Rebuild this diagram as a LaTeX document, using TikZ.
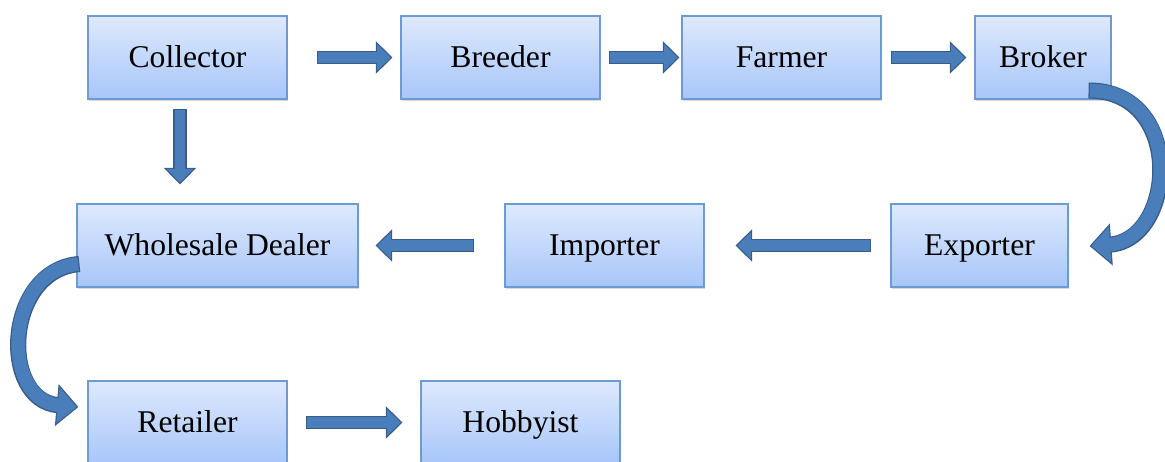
\documentclass[tikz,border=0pt]{standalone}
\usepackage{fontspec}
\setmainfont{Liberation Serif}
\usetikzlibrary{arrows.meta,shadows,calc}
\definecolor{boxtop}{HTML}{DEE9FD}
\definecolor{boxbottom}{HTML}{A7C6F9}
\definecolor{boxline}{HTML}{6D9AD3}
\definecolor{arrowfill}{HTML}{4A7EBB}
\definecolor{arrowline}{HTML}{385D8A}
\tikzset{
  stage/.style={draw=boxline, line width=0.8pt, top color=boxtop, bottom color=boxbottom,
    minimum width=199*0.025cm, minimum height=83*0.025cm, inner sep=0pt,
    text height=14pt, text depth=0pt,
    font=\fontsize{22.5}{27}\selectfont,
    drop shadow={shadow xshift=1pt, shadow yshift=-1.2pt, opacity=0.3}},
  arrowout/.style={draw=arrowline, line width=9.6pt, shorten >=0pt, shorten <=0pt,
    -{Triangle[width=22.5pt,length=11.8pt]}},
  flow/.style={draw=arrowfill, line width=7.8pt, shorten >=1.3pt, shorten <=0.9pt,
    -{Triangle[width=18.3pt,length=9.6pt]}, preaction={arrowout}},
  bendout/.style={draw=arrowline, line width=11.5pt, shorten >=0pt, shorten <=0pt,
    -{Triangle[width=29pt,length=15.5pt]}},
  bendflow/.style={draw=arrowfill, line width=9.7pt, shorten >=1.3pt, shorten <=0.9pt,
    -{Triangle[width=24.9pt,length=13.3pt]}, preaction={bendout}},
}
\begin{document}
\begin{tikzpicture}[x=0.025cm,y=-0.025cm]
    \useasboundingbox (0,0) rectangle (1165,461);
    % top row
    \node[stage] (col) at (187.5,57.5) {Collector};
    \node[stage] (bre) at (500.5,57.5) {Breeder};
    \node[stage] (far) at (781.5,57.5) {Farmer};
    \node[stage, minimum width=136*0.025cm] (bro) at (1043,57.5) {Broker};
    % middle row
    \node[stage, minimum width=281*0.025cm] (who) at (217.5,245.5) {Wholesale Dealer};
    \node[stage] (imp) at (604.5,245.5) {Importer};
    \node[stage, minimum width=177*0.025cm] (exp) at (979.5,245.5) {Exporter};
    % bottom row
    \node[stage] (ret) at (187.5,422.5) {Retailer};
    \node[stage] (hob) at (520.5,422.5) {Hobbyist};
    % straight arrows
    \draw[flow] ($(col.east)+(29,0)$) -- ($(bre.west)+(-8,0)$);
    \draw[flow] ($(bre.east)+(8,0)$) -- ($(far.west)+(-2,0)$);
    \draw[flow] ($(far.east)+(9,0)$) -- ($(bro.west)+(-8,0)$);
    \draw[flow] ($(col.south)+(-7.5,9)$) -- ($(who.north)+(-37.5,-19)$);
    \draw[flow] ($(exp.west)+(-19,0)$) -- ($(imp.east)+(31,0)$);
    \draw[flow] ($(imp.west)+(-30,0)$) -- ($(who.east)+(17,0)$);
    \draw[flow] ($(ret.east)+(18,0)$) -- ($(hob.west)+(-18,0)$);
    % curved arrows
    \draw[bendflow] ($(bro.south east)+(-23,-9)$) .. controls +(97,0) and +(86,-6) .. ($(exp.east)+(21,0.5)$);
    \draw[bendflow] ($(who.west)+(3,18.5)$) .. controls +(-75,6) and +(-79,-7) .. ($(ret.west)+(-9,-15.5)$);
\end{tikzpicture}
\end{document}
